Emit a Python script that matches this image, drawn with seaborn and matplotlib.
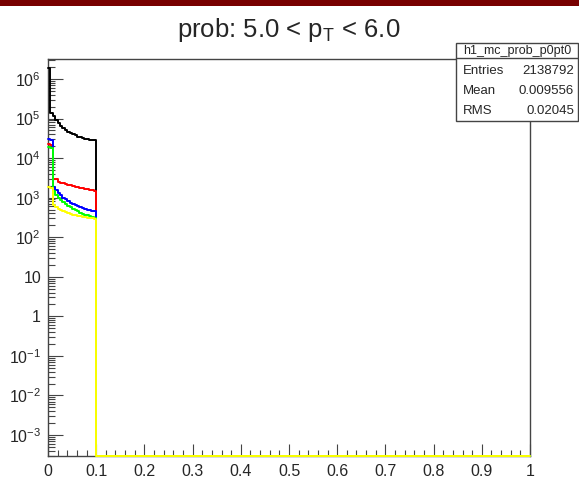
import numpy as np
import pandas as pd
import matplotlib
matplotlib.use("Agg")
import matplotlib.pyplot as plt
import seaborn as sns
from matplotlib.patches import Rectangle
from matplotlib.lines import Line2D
from matplotlib.ticker import LogLocator, FuncFormatter, MultipleLocator, NullFormatter

# ---- histogram contents (bins of width 0.005 starting at prob = 0) ----
bin_width = 0.005
prob_low_edges = np.round(np.arange(20) * bin_width, 4)

counts_all = [1.9e6, 1.35e5, 1.15e5, 9.0e4, 7.5e4, 6.5e4, 5.8e4, 5.2e4, 4.7e4, 4.3e4,
              4.0e4, 3.75e4, 3.5e4, 3.35e4, 3.2e4, 3.1e4, 3.0e4, 2.9e4, 2.85e4, 2.8e4]
counts_red = [2.3e4, 2.2e4, 3.0e3, 2.9e3, 2.5e3, 2.4e3, 2.3e3, 2.2e3, 2.15e3, 2.05e3,
              2.0e3, 1.9e3, 1.85e3, 1.8e3, 1.75e3, 1.7e3, 1.65e3, 1.6e3, 1.55e3, 1.5e3]
counts_blue = [3.0e4, 2.9e4, 1.9e3, 1.6e3, 1.35e3, 1.15e3, 1.0e3, 900, 820, 750,
               690, 640, 600, 570, 540, 515, 495, 480, 465, 450]
counts_green = [1.9e4, 1.8e4, 1.5e3, 1.2e3, 980, 850, 760, 680, 620, 570,
                520, 480, 450, 420, 395, 375, 355, 340, 325, 310]
counts_yellow = [1.9e3, 1.8e3, 650, 580, 530, 490, 460, 430, 410, 390,
                 375, 360, 350, 340, 330, 322, 315, 308, 302, 296]

series_colors = ["#000000", "#ff0000", "#0000ff", "#00ff00", "#ffff00"]
series_counts = [counts_all, counts_red, counts_blue, counts_green, counts_yellow]

title_text = "prob: 5.0 < p$_\\mathregular{T}$ < 6.0"
stats_name = "h1_mc_prob_p0pt0"
stats_rows = [("Entries", "2138792"), ("Mean", "0.009556"), ("RMS", "0.02045")]

x_range = (0.0, 1.0)
y_range = (2.95e-4, 3.2e6)

# ---- figure ----
sns.set_style("white")
plt.rcParams["font.family"] = ["Liberation Sans", "DejaVu Sans"]
plt.rcParams["mathtext.fontset"] = "custom"
plt.rcParams["mathtext.rm"] = "Liberation Sans"

W, H = 579, 480
fig = plt.figure(figsize=(W / 100, H / 100), dpi=100)
fig.patch.set_facecolor("white")


def px(x, y):
    return x / W, 1 - y / H


ax = fig.add_axes([48 / W, 1 - 456 / H, (530 - 48) / W, (456 - 59) / H])
ax.set_yscale("log")

n_bins = int(round((x_range[1] - x_range[0]) / bin_width))
centers = prob_low_edges + bin_width / 2

for color, counts in zip(series_colors, series_counts):
    df = pd.DataFrame({"prob": centers, "n": np.asarray(counts, dtype=float)})
    sns.histplot(data=df, x="prob", weights="n", bins=n_bins, binrange=x_range,
                 element="step", fill=False, color=color, linewidth=1.4, ax=ax)

ax.set_xlim(*x_range)
ax.set_ylim(*y_range)

# empty bins sit on the frame floor, as in ROOT
for k, line in enumerate(ax.get_lines()):
    y = np.asarray(line.get_ydata(), dtype=float)
    line.set_ydata(np.clip(y, y_range[0], None))
    line.set_clip_on(False)
    line.set_zorder(3 + k * 0.01)

ax.set_xlabel("")
ax.set_ylabel("")
ax.xaxis.label.set_visible(False)
ax.yaxis.label.set_visible(False)

frame_col = "#444444"
for s in ax.spines.values():
    s.set_color(frame_col)
    s.set_linewidth(1.0)

ax.yaxis.set_major_locator(LogLocator(base=10, numticks=30))
ax.yaxis.set_minor_locator(LogLocator(base=10, subs=np.arange(2, 10), numticks=30))
ax.yaxis.set_minor_formatter(NullFormatter())


def log_label(v, pos):
    e = int(round(np.log10(v)))
    if e == 0:
        return "1"
    if e == 1:
        return "10"
    return r"$\mathregular{10^{%d}}$" % e


ax.yaxis.set_major_formatter(FuncFormatter(log_label))
ax.xaxis.set_major_locator(MultipleLocator(0.1))
ax.xaxis.set_minor_locator(MultipleLocator(0.02))
ax.xaxis.set_major_formatter(FuncFormatter(lambda v, p: "%g" % round(v, 3)))

ax.tick_params(axis="both", which="both", bottom=True, left=True, top=False, right=False)
ax.tick_params(axis="y", which="major", direction="in", length=10.5, width=0.8,
               color=frame_col, labelsize=11.5, pad=5)
ax.tick_params(axis="y", which="minor", direction="in", length=5, width=0.8, color=frame_col)
ax.tick_params(axis="x", which="major", direction="in", length=8.5, width=0.8,
               color=frame_col, labelsize=11.5, pad=6)
ax.tick_params(axis="x", which="minor", direction="in", length=4.3, width=0.8, color=frame_col)

# title
fig.text(*px(289, 36.5), title_text, ha="center", va="baseline", fontsize=18.5)

# dark band along the top edge
fig.add_artist(Rectangle(px(0, 6), 1, 6 / H, transform=fig.transFigure,
                         facecolor="#780000", edgecolor="none"))

# statistics box
bx0, bx1, by0, by1, bsep = 456, 578, 43, 121, 58
fig.add_artist(Rectangle(px(bx0, by1), (bx1 - bx0) / W, (by1 - by0) / H,
                         transform=fig.transFigure, facecolor="white",
                         edgecolor=frame_col, linewidth=1.0, zorder=5))
fig.add_artist(Line2D([bx0 / W, bx1 / W], [1 - bsep / H, 1 - bsep / H],
                      transform=fig.transFigure, color=frame_col, linewidth=1.0, zorder=6))
fig.text(*px((bx0 + bx1) / 2, 51), stats_name, ha="center", va="center",
         fontsize=9, zorder=7)
for i, (k, v) in enumerate(stats_rows):
    yy = 71 + 20 * i
    fig.text(*px(463, yy), k, ha="left", va="center", fontsize=9.5, zorder=7)
    fig.text(*px(574, yy), v, ha="right", va="center", fontsize=9.5, zorder=7)

fig.savefig("out.png", dpi=100, facecolor="white")
